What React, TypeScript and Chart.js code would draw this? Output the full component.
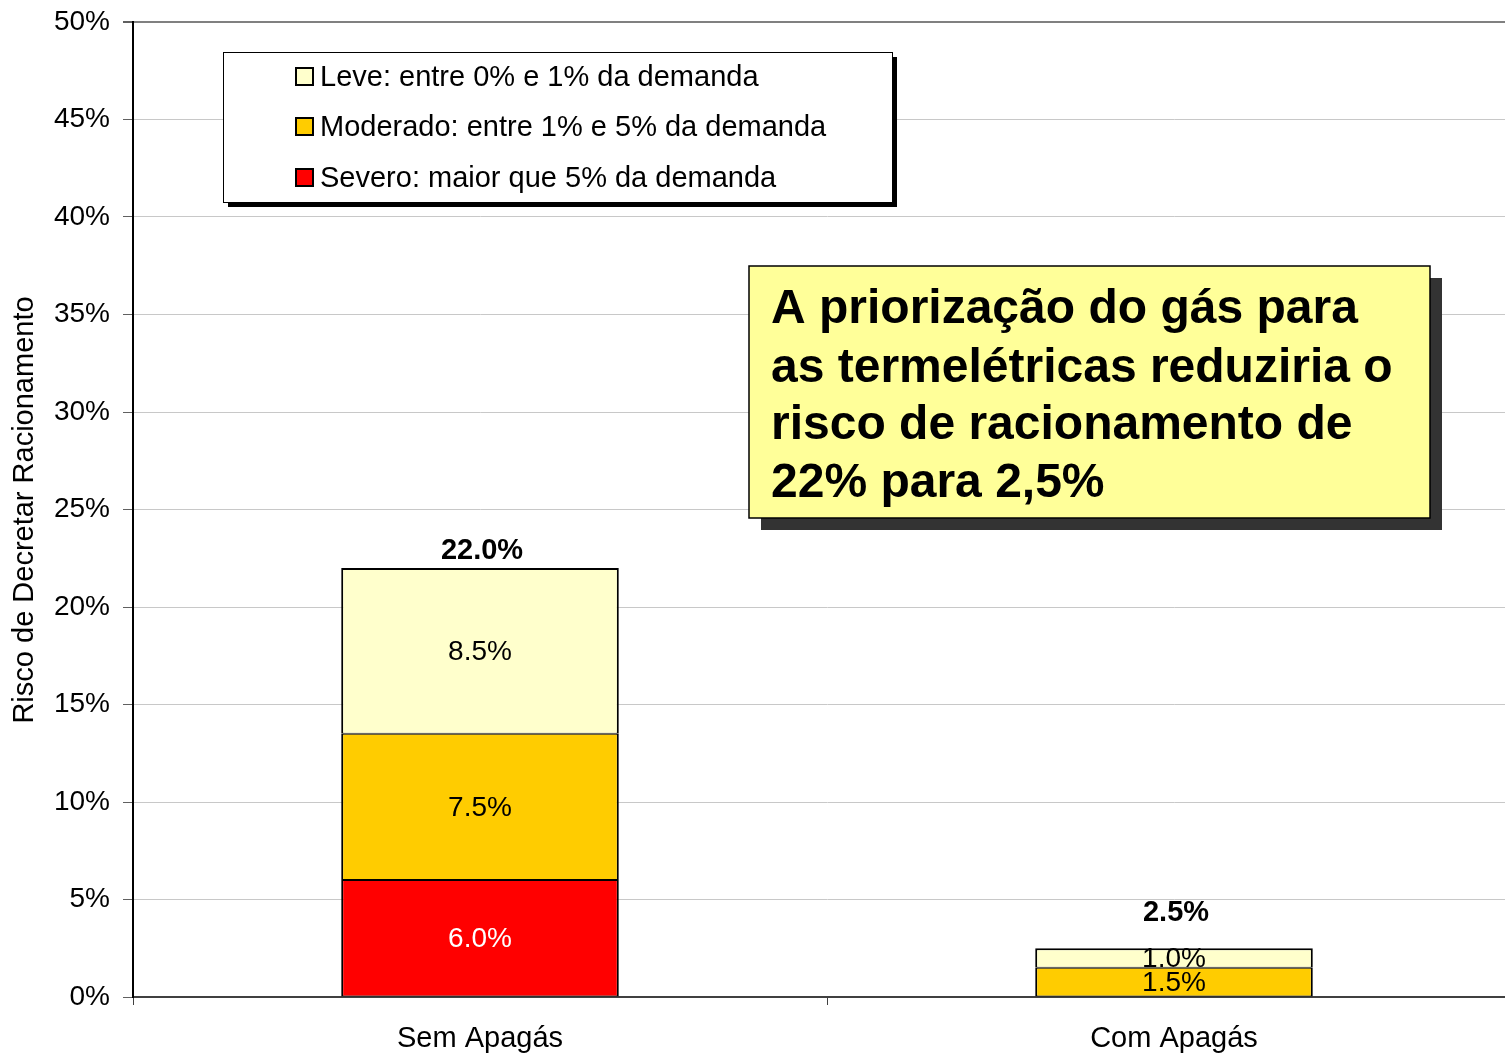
import React, { useEffect, useRef } from "react";
import { Chart, registerables } from "chart.js";

Chart.register(...registerables);

const categories = ["Sem Apagás", "Com Apagás"];
const severo = [6.0, null];
const moderado = [7.5, 1.5];
const leve = [8.5, 1.0];
const totals = [22.0, 2.5];
const yTicks = [0, 5, 10, 15, 20, 25, 30, 35, 40, 45, 50];
const legendLabels = [
  "Leve: entre 0% e 1% da demanda",
  "Moderado: entre 1% e 5% da demanda",
  "Severo: maior que 5% da demanda",
];
const annotationLines = [
  "A priorização do gás para",
  "as termelétricas reduziria o",
  "risco de racionamento de",
  "22% para 2,5%",
];
const axisTitle = "Risco de Decretar Racionamento";

const FONT = "'Liberation Sans', Arial, Helvetica, sans-serif";
const RED = "#ff0000";
const ORANGE = "#ffcc00";
const PALE = "#ffffcc";
const totalLabelOffsets = [17, 35];

const innerBorder = { top: 1, bottom: 1, left: 2, right: 2 };
const topBorder = { top: 2, bottom: 1, left: 2, right: 2 };

const overlayPlugin = {
  id: "overlay",
  afterDatasetsDraw(chart: any) {
    const ctx = chart.ctx;
    ctx.save();
    ctx.textAlign = "center";
    ctx.textBaseline = "middle";
    ctx.font = `28px ${FONT}`;
    chart.data.datasets.forEach((ds: any, di: number) => {
      const meta = chart.getDatasetMeta(di);
      meta.data.forEach((el: any, i: number) => {
        const v = ds.data[i];
        if (v == null) return;
        const cy = (el.y + el.base) / 2;
        ctx.fillStyle = ds.backgroundColor === RED ? "#ffffff" : "#000000";
        ctx.fillText(v.toFixed(1) + "%", el.x, cy + 1);
      });
    });
    ctx.font = `bold 29px ${FONT}`;
    ctx.fillStyle = "#000";
    const yScale = chart.scales.y;
    const xScale = chart.scales.x;
    totals.forEach((t, i) => {
      const x = xScale.getPixelForValue(i);
      const y = yScale.getPixelForValue(t);
      ctx.fillText(t.toFixed(1) + "%", x + 2, y - totalLabelOffsets[i]);
    });
    ctx.restore();
  },
  afterDraw(chart: any) {
    const ctx = chart.ctx;
    ctx.save();
    ctx.save();
    ctx.translate(25, 510);
    ctx.rotate(-Math.PI / 2);
    ctx.font = `29px ${FONT}`;
    ctx.fillStyle = "#000";
    ctx.textAlign = "center";
    ctx.textBaseline = "middle";
    ctx.fillText(axisTitle, 0, 0);
    ctx.restore();

    const lx = 223, ly = 52, lw = 669, lh = 150;
    ctx.fillStyle = "#000";
    ctx.fillRect(lx + 5, ly + 5, lw, lh);
    ctx.fillStyle = "#fff";
    ctx.fillRect(lx, ly, lw, lh);
    ctx.strokeStyle = "#000";
    ctx.lineWidth = 1;
    ctx.strokeRect(lx + 0.5, ly + 0.5, lw, lh);
    const colors = [PALE, ORANGE, RED];
    const rowY = [77, 127, 178];
    ctx.font = `29px ${FONT}`;
    ctx.textAlign = "left";
    ctx.textBaseline = "middle";
    legendLabels.forEach((lab, i) => {
      ctx.fillStyle = colors[i];
      ctx.fillRect(296, rowY[i] - 9, 17, 17);
      ctx.lineWidth = 2;
      ctx.strokeStyle = "#000";
      ctx.strokeRect(296, rowY[i] - 9, 17, 17);
      ctx.fillStyle = "#000";
      ctx.fillText(lab, 320, rowY[i] + 1);
    });

    const ax = 749, ay = 266, aw = 681, ah = 252;
    ctx.fillStyle = "#333333";
    ctx.fillRect(ax + 12, ay + 12, aw, ah);
    ctx.fillStyle = "#ffff99";
    ctx.fillRect(ax, ay, aw, ah);
    ctx.strokeStyle = "#000";
    ctx.lineWidth = 1.5;
    ctx.strokeRect(ax, ay, aw, ah);
    ctx.fillStyle = "#000";
    ctx.font = `bold 48px ${FONT}`;
    ctx.textBaseline = "middle";
    const lineY = [310, 369, 426, 484];
    annotationLines.forEach((t, i) => ctx.fillText(t, 771, lineY[i]));
    ctx.restore();
  },
};

export default function App() {
  const ref = useRef<HTMLCanvasElement>(null);
  useEffect(() => {
    if (!ref.current) return;
    const chart = new Chart(ref.current, {
      type: "bar",
      data: {
        labels: categories,
        datasets: [
          { label: legendLabels[2], data: severo, backgroundColor: RED, borderColor: "#000", borderWidth: innerBorder, borderSkipped: false },
          { label: legendLabels[1], data: moderado, backgroundColor: ORANGE, borderColor: "#000", borderWidth: innerBorder, borderSkipped: false },
          { label: legendLabels[0], data: leve, backgroundColor: PALE, borderColor: "#000", borderWidth: topBorder, borderSkipped: false },
        ] as any,
      },
      options: {
        animation: false,
        responsive: false,
        maintainAspectRatio: false,
        layout: { padding: { top: 22, left: 0, right: 0, bottom: 0 } },
        datasets: { bar: { barPercentage: 0.4, categoryPercentage: 1 } },
        plugins: { legend: { display: false }, tooltip: { enabled: false } },
        scales: {
          x: {
            stacked: true,
            afterFit: (s: any) => { s.height = 58; s.paddingLeft = 0; s.paddingRight = 0; },
            border: { color: "#404040", width: 2 },
            grid: { offset: true, drawOnChartArea: false, drawTicks: true, tickLength: 8, tickColor: "#404040", lineWidth: 1 },
            ticks: { color: "#000", font: { size: 29, family: FONT }, padding: 17 },
          },
          y: {
            stacked: true,
            min: 0,
            max: 50,
            afterFit: (s: any) => { s.width = 133; s.paddingTop = 0; s.paddingBottom = 0; },
            afterBuildTicks: (s: any) => { s.ticks = yTicks.map((v) => ({ value: v })); },
            border: { color: "#000", width: 2 },
            grid: {
              color: (c: any) => (c.tick && c.tick.value === 50 ? "#808080" : "#c8c8c8"),
              lineWidth: (c: any) => (c.tick && c.tick.value === 50 ? 2 : 1),
              tickLength: 10,
              tickColor: "#606060",
            },
            ticks: {
              color: "#000",
              font: { size: 28, family: FONT },
              padding: 13,
              callback: (v: any) => v + "%",
            },
          },
        },
      },
      plugins: [overlayPlugin],
    });
    return () => chart.destroy();
  }, []);
  return (
    <div style={{ position: "fixed", left: 0, top: 0, width: 1505, height: 1055, overflow: "hidden", background: "#fff" }}>
      <canvas ref={ref} width={1521} height={1055} style={{ width: 1521, height: 1055, display: "block" }} />
    </div>
  );
}
